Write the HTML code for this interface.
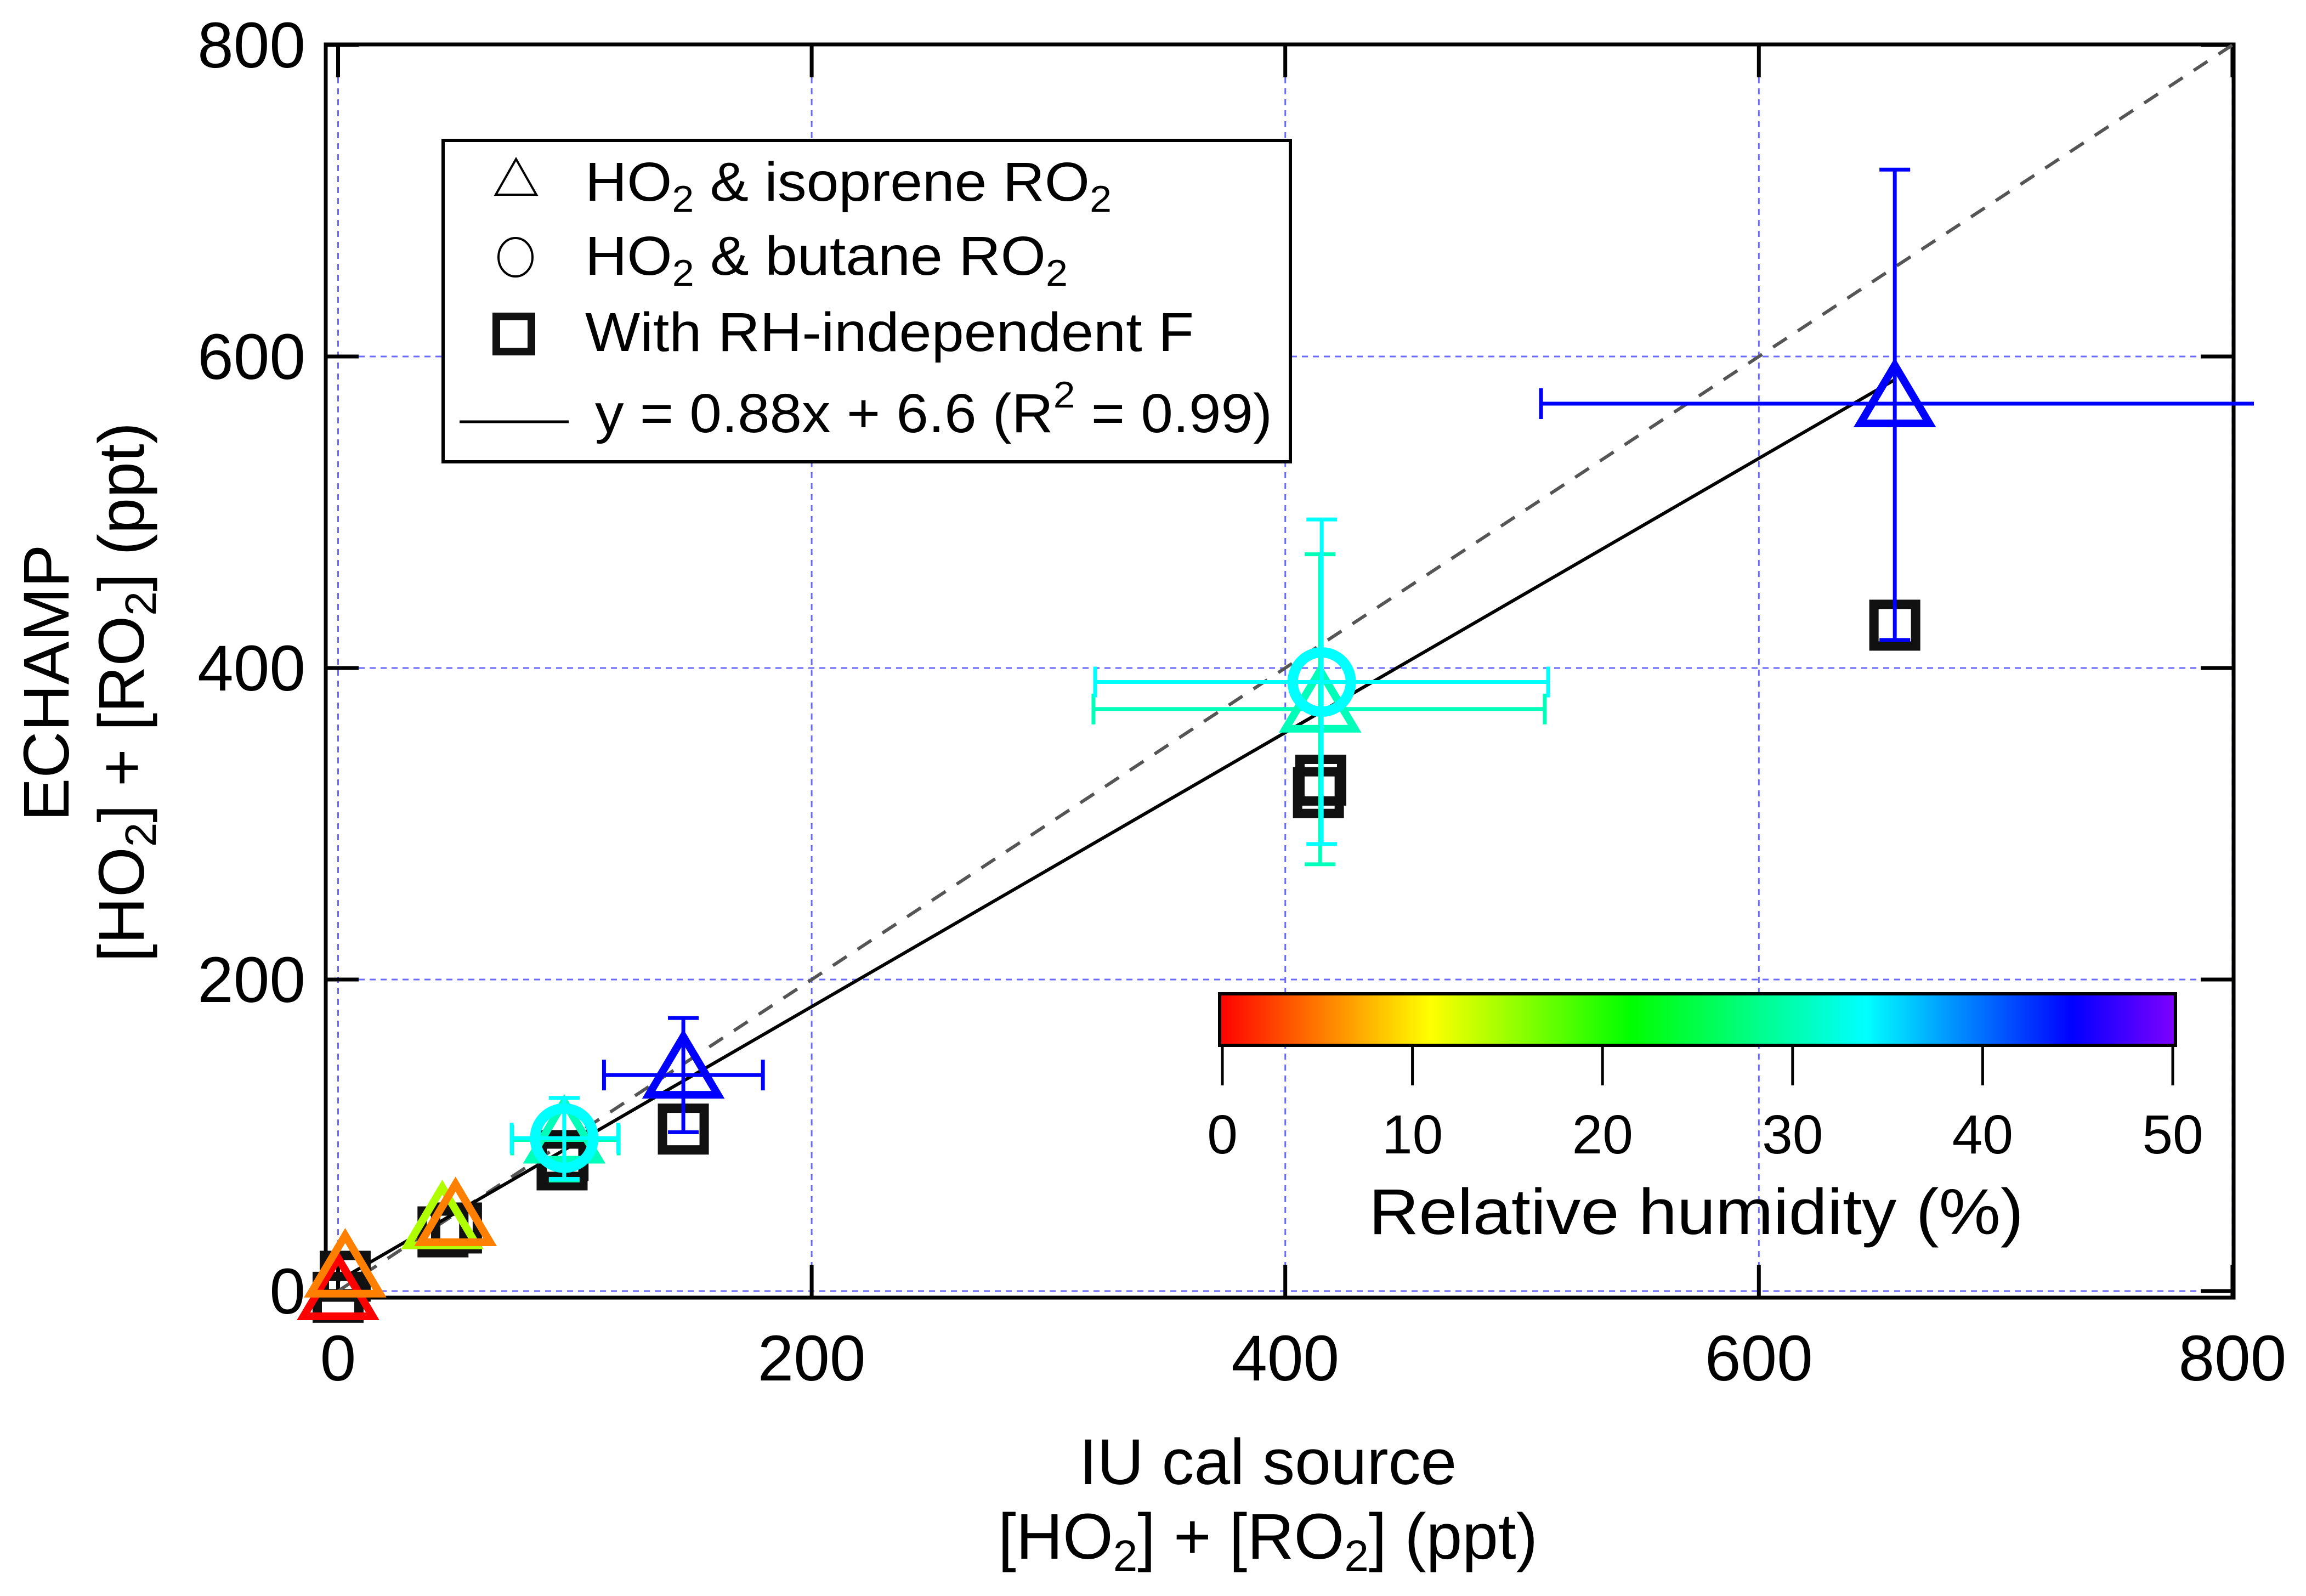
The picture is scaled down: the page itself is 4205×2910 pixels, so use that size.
<!DOCTYPE html>
<html><head><meta charset="utf-8"><style>
html,body{margin:0;padding:0;background:#fff;}
svg{display:block;font-family:"Liberation Sans",Arial,sans-serif;}
</style></head><body>
<svg id="chart" xmlns="http://www.w3.org/2000/svg" width="4205" height="2910" viewBox="0 0 4205 2910">
<defs>
<linearGradient id="rhgrad" x1="0" x2="1" y1="0" y2="0">
<stop offset="0" stop-color="#ff0000"/><stop offset="0.11" stop-color="#ff8000"/><stop offset="0.22" stop-color="#ffff00"/><stop offset="0.43" stop-color="#00ff00"/><stop offset="0.676" stop-color="#00ffff"/><stop offset="0.892" stop-color="#0000ff"/><stop offset="1" stop-color="#8000ff"/>
</linearGradient>
</defs>
<rect x="0" y="0" width="4205" height="2910" fill="#fff"/>
<g id="grid"></g>
<g id="frame"></g>
<g id="ticks"></g>
<g id="lines"></g>
<g id="marks"></g>
<g id="xticklabels" font-size="118" text-anchor="middle"></g>
<g id="yticklabels" font-size="118" text-anchor="end"></g>

<text x="2312" y="2706" font-size="118" text-anchor="middle">IU cal source</text>
<text x="2312" y="2842" font-size="118" text-anchor="middle">[HO<tspan font-size="80" dy="22">2</tspan><tspan dy="-22">] + [RO</tspan><tspan font-size="80" dy="22">2</tspan><tspan dy="-22">] (ppt)</tspan></text>
<g transform="translate(125,1245) rotate(-90)">
<text x="0" y="0" font-size="118" text-anchor="middle">ECHAMP</text>
</g>
<g transform="translate(262,1262) rotate(-90)">
<text x="0" y="0" font-size="118" text-anchor="middle">[HO<tspan font-size="80" dy="22">2</tspan><tspan dy="-22">] + [RO</tspan><tspan font-size="80" dy="22">2</tspan><tspan dy="-22">] (ppt)</tspan></text>
</g>

<g>
<rect x="808" y="256" width="1545" height="586" fill="#fff" stroke="#000" stroke-width="6"/>
<g>
<polygon points="941,290 904,355 978,355" fill="none" stroke="#000" stroke-width="4"/>
<text x="1067" y="366" font-size="100" textLength="960" lengthAdjust="spacingAndGlyphs">HO<tspan font-size="68" dy="20">2</tspan><tspan dy="-20"> &amp; isoprene RO</tspan><tspan font-size="68" dy="20">2</tspan></text>
</g>
<g>
<ellipse cx="940" cy="469" rx="31" ry="35" fill="none" stroke="#000" stroke-width="4"/>
<text x="1067" y="501" font-size="100" textLength="880" lengthAdjust="spacingAndGlyphs">HO<tspan font-size="68" dy="20">2</tspan><tspan dy="-20"> &amp; butane RO</tspan><tspan font-size="68" dy="20">2</tspan></text>
</g>
<g>
<rect x="905" y="577" width="64" height="64" fill="none" stroke="#111" stroke-width="14"/>
<text x="1067" y="640" font-size="100" textLength="1110" lengthAdjust="spacingAndGlyphs">With RH-independent F</text>
</g>
<g>
<line x1="838" y1="769" x2="1037" y2="769" stroke="#000" stroke-width="5"/>
<text x="1085" y="788" font-size="100" textLength="1235" lengthAdjust="spacingAndGlyphs">y = 0.88x + 6.6 (R<tspan font-size="68" dy="-45">2</tspan><tspan dy="45"> = 0.99)</tspan></text>
</g>
</g>

<g>
<rect x="2224" y="1812" width="1743" height="94" fill="url(#rhgrad)" stroke="#000" stroke-width="6"/>
<g id="cbticks"></g>
<text x="3093" y="2250" font-size="118" text-anchor="middle" textLength="1194" lengthAdjust="spacingAndGlyphs">Relative humidity (%)</text>
</g>
</svg>
<script>
// ---- data ----
const xTicks = [0, 200, 400, 600, 800];
const yTicks = [0, 200, 400, 600, 800];
const cbTicks = [0, 10, 20, 30, 40, 50];
// triangles: HO2 & isoprene RO2
const triX = [0, 3, 44, 49.6, 95.5, 145.8, 414.7, 657.4];
const triY = [-3.5, 11, 42, 44, 97, 138.7, 373.7, 569.7];
const triRH = [0, 5.5, 14.3, 5.5, 30.4, 44.6, 30.4, 44.6];
const triXErrLo = [0, 0, 0, 0, 22, 33.5, 95.7, 149.4];
const triXErrHi = [0, 0, 0, 0, 23, 33.6, 94.9, 200];
const triYErrLo = [0, 0, 0, 0, 26, 36.7, 99.7, 151.7];
const triYErrHi = [0, 0, 0, 0, 27, 36.6, 99.3, 150.3];
// circles: HO2 & butane RO2
const cirX = [95.5, 415.4];
const cirY = [98.2, 391];
const cirRH = [33.8, 33.8];
const cirXErrLo = [22.2, 95.7];
const cirXErrHi = [22.8, 95.6];
const cirYErrLo = [26.2, 104];
const cirYErrHi = [25.8, 104.4];
// squares: RH-independent F
const sqX = [0, 3, 44.3, 50, 94.6, 95, 145.8, 414, 415, 657.4];
const sqY = [-4, 9.5, 38, 40.5, 81, 87, 104, 320, 328, 427.5];
// fit line
const fitSlope = 0.88, fitIntercept = 6.6, fitXMax = 657;

// ---- axes ----
const X0 = 616.5, XS = 4.318, Y0 = 2354, YS = 2.84;
const sx = v => X0 + v * XS;
const sy = v => Y0 - v * YS;
const CB0 = 2229, CBS = (3962 - 2229) / 50;
const cbx = v => CB0 + v * CBS;
const FL = 594, FR = 4073, FT = 81, FB = 2366;

const stops = [[0,[255,0,0]],[5.5,[255,128,0]],[11,[255,255,0]],[21.5,[0,255,0]],[33.8,[0,255,255]],[44.6,[0,0,255]],[50,[128,0,255]]];
function rhColor(v){
  for(let i=0;i<stops.length-1;i++){
    const a=stops[i], b=stops[i+1];
    if(v<=b[0]){const t=Math.max(0,(v-a[0])/(b[0]-a[0]));
      const c=a[1].map((q,k)=>Math.round(q+(b[1][k]-q)*t));return `rgb(${c.join(',')})`;}
  }
  return 'rgb(128,0,255)';
}
const NS='http://www.w3.org/2000/svg';
function mk(tag, attrs, parent){const e=document.createElementNS(NS,tag);for(const k in attrs)e.setAttribute(k,attrs[k]);parent.appendChild(e);return e;}

const grid=document.getElementById('grid');
xTicks.forEach(t=>{
  const e=mk('line',{x1:sx(t),x2:sx(t),y1:FT,y2:FB,stroke:'#6a6aff','stroke-width':3,'stroke-dasharray':'11 9'},grid);
  
  
});
yTicks.forEach(t=>{
  const e=mk('line',{x1:FL,x2:FR,y1:sy(t),y2:sy(t),stroke:'#6a6aff','stroke-width':3,'stroke-dasharray':'11 9'},grid);
  
  
});
const frame=document.getElementById('frame');
const fr=mk('rect',{x:FL,y:FT,width:FR-FL,height:FB-FT,fill:'none',stroke:'#000','stroke-width':7},frame);



const ticks=document.getElementById('ticks');
const xl=document.getElementById('xticklabels');
xTicks.forEach(t=>{
  const a=mk('line',{x1:sx(t),x2:sx(t),y1:FB,y2:FB-60,stroke:'#000','stroke-width':7},ticks);
  
  
  const b=mk('line',{x1:sx(t),x2:sx(t),y1:FT,y2:FT+60,stroke:'#000','stroke-width':7},ticks);
  
  
  const tx=mk('text',{x:sx(t),y:2517},xl);tx.textContent=t;
  
  
});
const yl=document.getElementById('yticklabels');
yTicks.forEach(t=>{
  const a=mk('line',{x1:FL,x2:FL+60,y1:sy(t),y2:sy(t),stroke:'#000','stroke-width':7},ticks);
  
  
  const b=mk('line',{x1:FR,x2:FR-60,y1:sy(t),y2:sy(t),stroke:'#000','stroke-width':7},ticks);
  
  
  const tx=mk('text',{x:557,y:sy(t)+41},yl);tx.textContent=t;
  
  
});

const cbt=document.getElementById('cbticks');
cbTicks.forEach(t=>{
  const a=mk('line',{x1:cbx(t),x2:cbx(t),y1:1909,y2:1979,stroke:'#000','stroke-width':5},cbt);
  
  
  const tx=mk('text',{x:cbx(t),y:2103,'font-size':100,'text-anchor':'middle'},cbt);tx.textContent=t;
  
  
});

const lines=document.getElementById('lines');
const one=mk('line',{x1:sx(0),y1:sy(0),x2:sx(800),y2:sy(800),stroke:'#555','stroke-width':6,'stroke-dasharray':'30 24'},lines);


const fit=mk('line',{x1:sx(0),y1:sy(fitIntercept),x2:sx(fitXMax),y2:sy(fitSlope*fitXMax+fitIntercept),stroke:'#000','stroke-width':6},lines);



const marks=document.getElementById('marks');
// squares first (underneath)
sqX.forEach((x,i)=>{
  const cx=sx(x), cy=sy(sqY[i]);
  const r=mk('rect',{x:cx-38,y:cy-38,width:76,height:76,fill:'none',stroke:'#111','stroke-width':17},marks);
  
  
});
function errbars(x,y,xl_,xh,yl_,yh,col,name){
  const g=mk('g',{stroke:col,'stroke-width':7,fill:'none'},marks);
  
  
  const cx=sx(x), cy=sy(y), cap=28;
  if(xl_>0||xh>0){
    const x1=sx(x-xl_), x2=Math.min(sx(x+xh),4110);
    mk('line',{x1:x1,x2:x2,y1:cy,y2:cy},g);
    mk('line',{x1:x1,x2:x1,y1:cy-cap,y2:cy+cap},g);
    if(sx(x+xh)<4110) mk('line',{x1:x2,x2:x2,y1:cy-cap,y2:cy+cap},g);
  }
  if(yl_>0||yh>0){
    const y1=sy(y+yh), y2=sy(y-yl_);
    mk('line',{x1:cx,x2:cx,y1:y1,y2:y2},g);
    mk('line',{x1:cx-cap,x2:cx+cap,y1:y1,y2:y1},g);
    mk('line',{x1:cx-cap,x2:cx+cap,y1:y2,y2:y2},g);
  }
}
triX.forEach((x,i)=>{
  const col=rhColor(triRH[i]);
  errbars(x,triY[i],triXErrLo[i],triXErrHi[i],triYErrLo[i],triYErrHi[i],col,'triangle-error-bars');
  const cx=sx(x), cy=sy(triY[i]);
  const p=mk('polygon',{points:`${cx},${cy-70} ${cx-63},${cy+36} ${cx+63},${cy+36}`,fill:'none',stroke:col,'stroke-width':14},marks);
  
  
});
cirX.forEach((x,i)=>{
  const col=rhColor(cirRH[i]);
  errbars(x,cirY[i],cirXErrLo[i],cirXErrHi[i],cirYErrLo[i],cirYErrHi[i],col,'circle-error-bars');
  const c=mk('ellipse',{cx:sx(x),cy:sy(cirY[i]),rx:53,ry:54,fill:'none',stroke:col,'stroke-width':19},marks);
  
  
});
</script>
</body></html>
